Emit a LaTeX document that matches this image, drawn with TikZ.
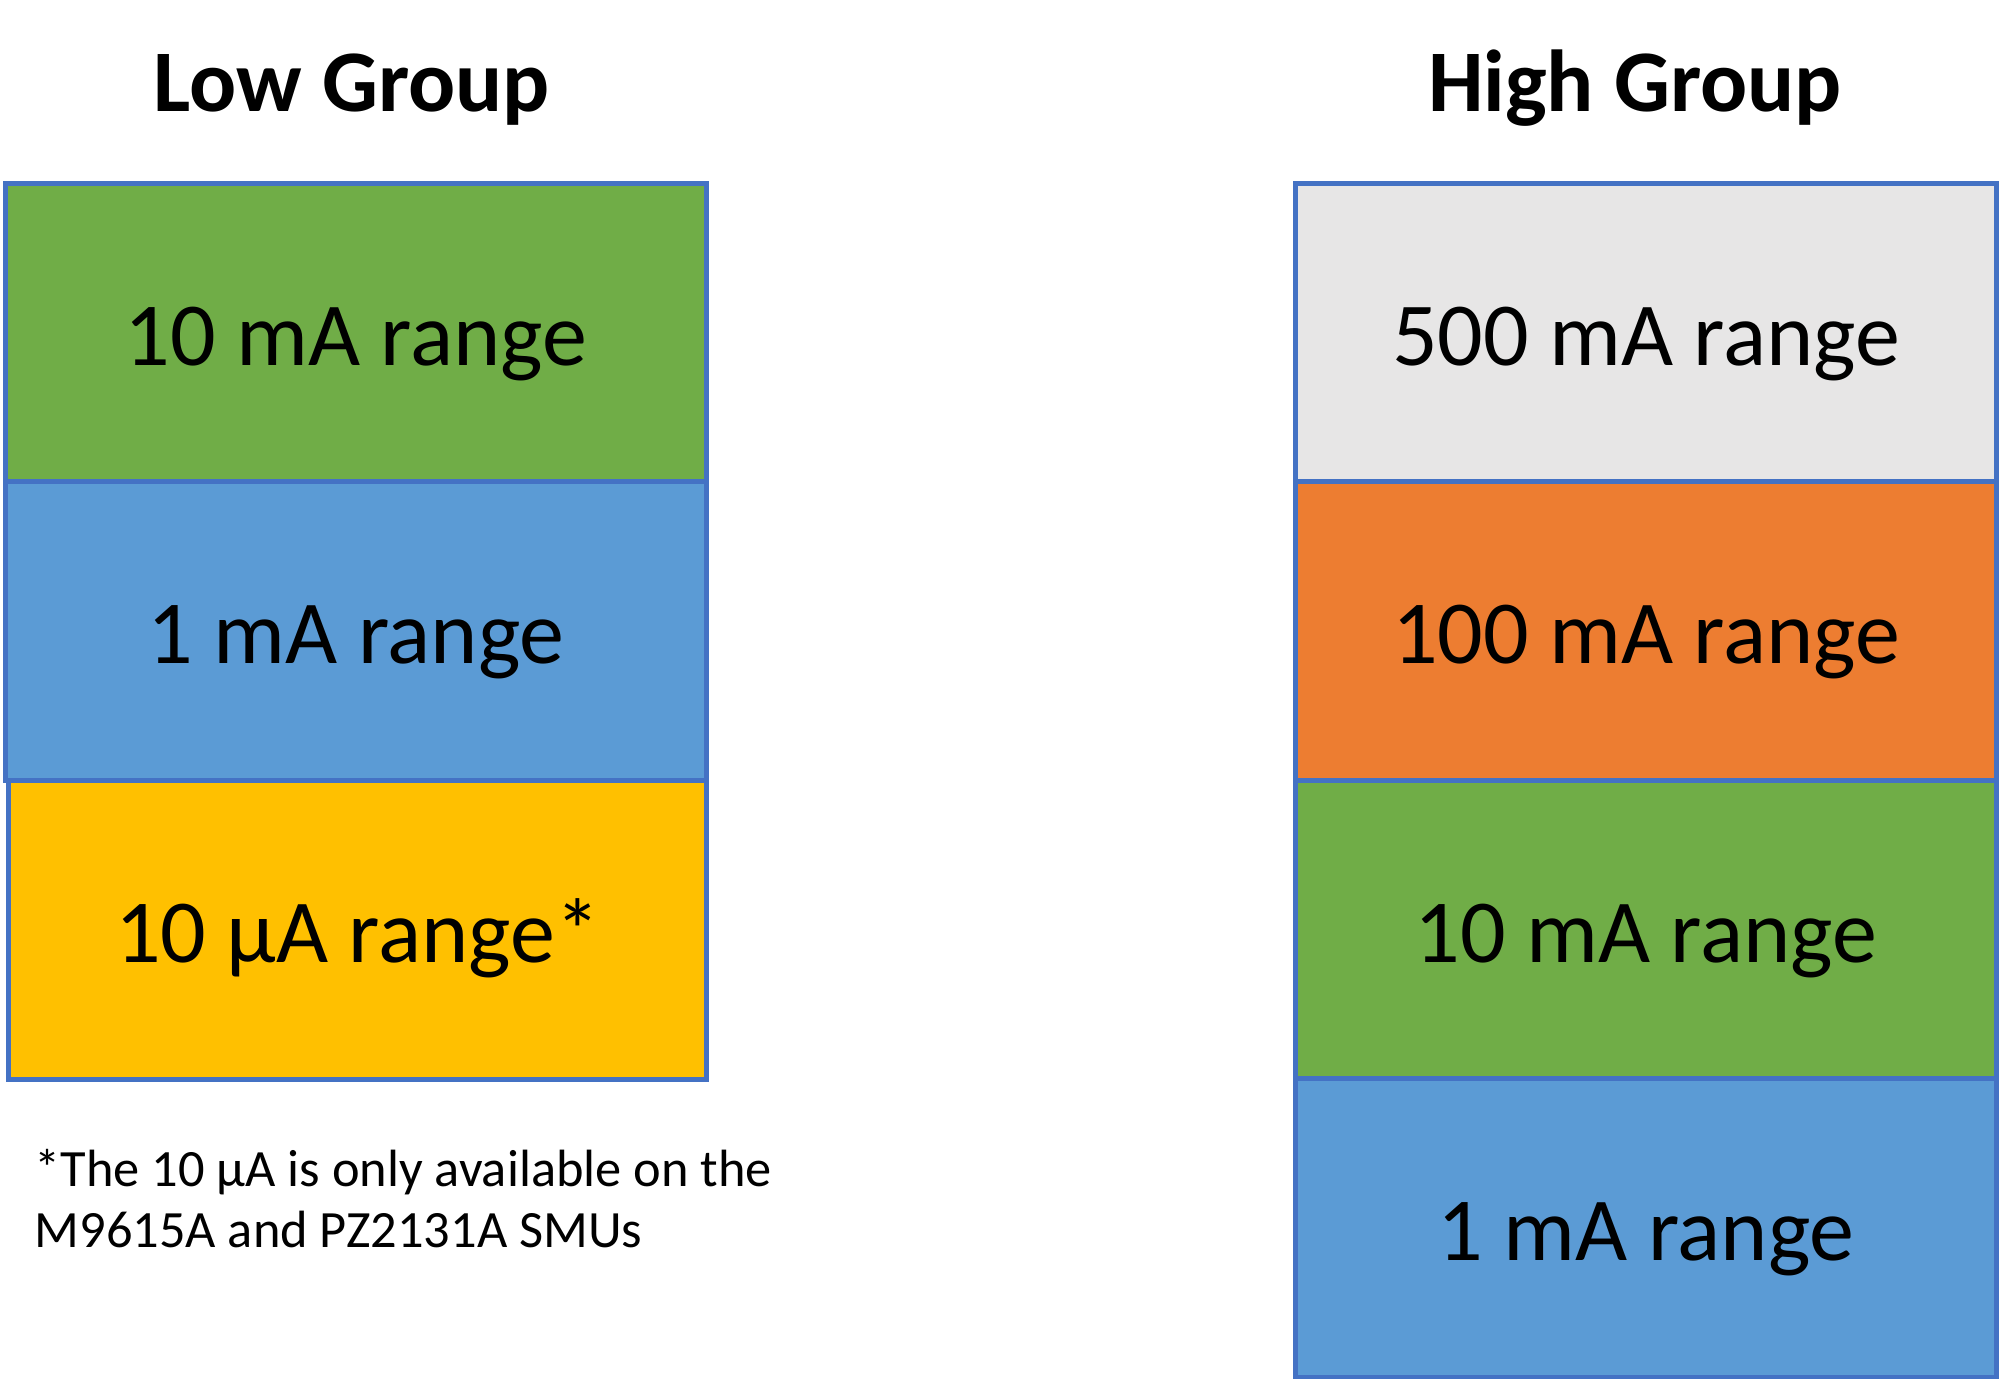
\documentclass[tikz,border=0pt]{standalone}
\usepackage{fontspec}
\setmainfont{Carlito}
\usepackage{tikz}
\usetikzlibrary{calc}
\definecolor{RangeBorder}{RGB}{68,114,196}
\definecolor{RangeGreen}{RGB}{112,173,71}
\definecolor{RangeBlue}{RGB}{91,155,213}
\definecolor{RangeYellow}{RGB}{255,192,0}
\definecolor{RangeOrange}{RGB}{237,125,49}
\definecolor{RangeGrey}{RGB}{231,230,230}

\begin{document}
\begin{tikzpicture}[x=0.01cm, y=-0.01cm,
  Bereich/.style={draw=RangeBorder, line width=1.4pt, rectangle, inner sep=0pt,
    minimum width=7cm, minimum height=2.98cm, text height=0.64cm, text depth=0pt,
    font=\fontsize{25.6pt}{30pt}\selectfont},
  Titel/.style={anchor=base, inner sep=0pt, font=\fontsize{25pt}{30pt}\selectfont\bfseries},
  Notiz/.style={anchor=base west, inner sep=0pt, font=\fontsize{14.9pt}{18pt}\selectfont}]
\useasboundingbox (0,0) rectangle (2000,1379);
% low group
\coordinate (a) at (356,333);
\node (low1) at (a) [Bereich, fill=RangeGreen] {10 mA range};
\node (low2) at ($(a) + (0,298)$) [Bereich, fill=RangeBlue] {1 mA range};
\node (low3) at ($(a) + (1.5,597)$) [Bereich, minimum width=6.97cm, fill=RangeYellow] {10 μA range*};
\node (lowtitle) at (352,112) [Titel] {Low Group};
\node (note1) at (34,1186) [Notiz] {*The 10 μA is only available on the};
\node (note2) at ($(note1.base west) + (0,61)$) [Notiz] {M9615A and PZ2131A SMUs};
% high group
\coordinate (a) at (1646,333);
\node (high1) at (a) [Bereich, fill=RangeGrey] {500 mA range};
\node (high2) at ($(a) + (0,298)$) [Bereich, fill=RangeOrange] {100 mA range};
\node (high3) at ($(a) + (0,597)$) [Bereich, fill=RangeGreen] {10 mA range};
\node (high4) at ($(a) + (0,895)$) [Bereich, fill=RangeBlue] {1 mA range};
\node (hightitle) at (1635,112) [Titel] {High Group};
\end{tikzpicture}
\end{document}
